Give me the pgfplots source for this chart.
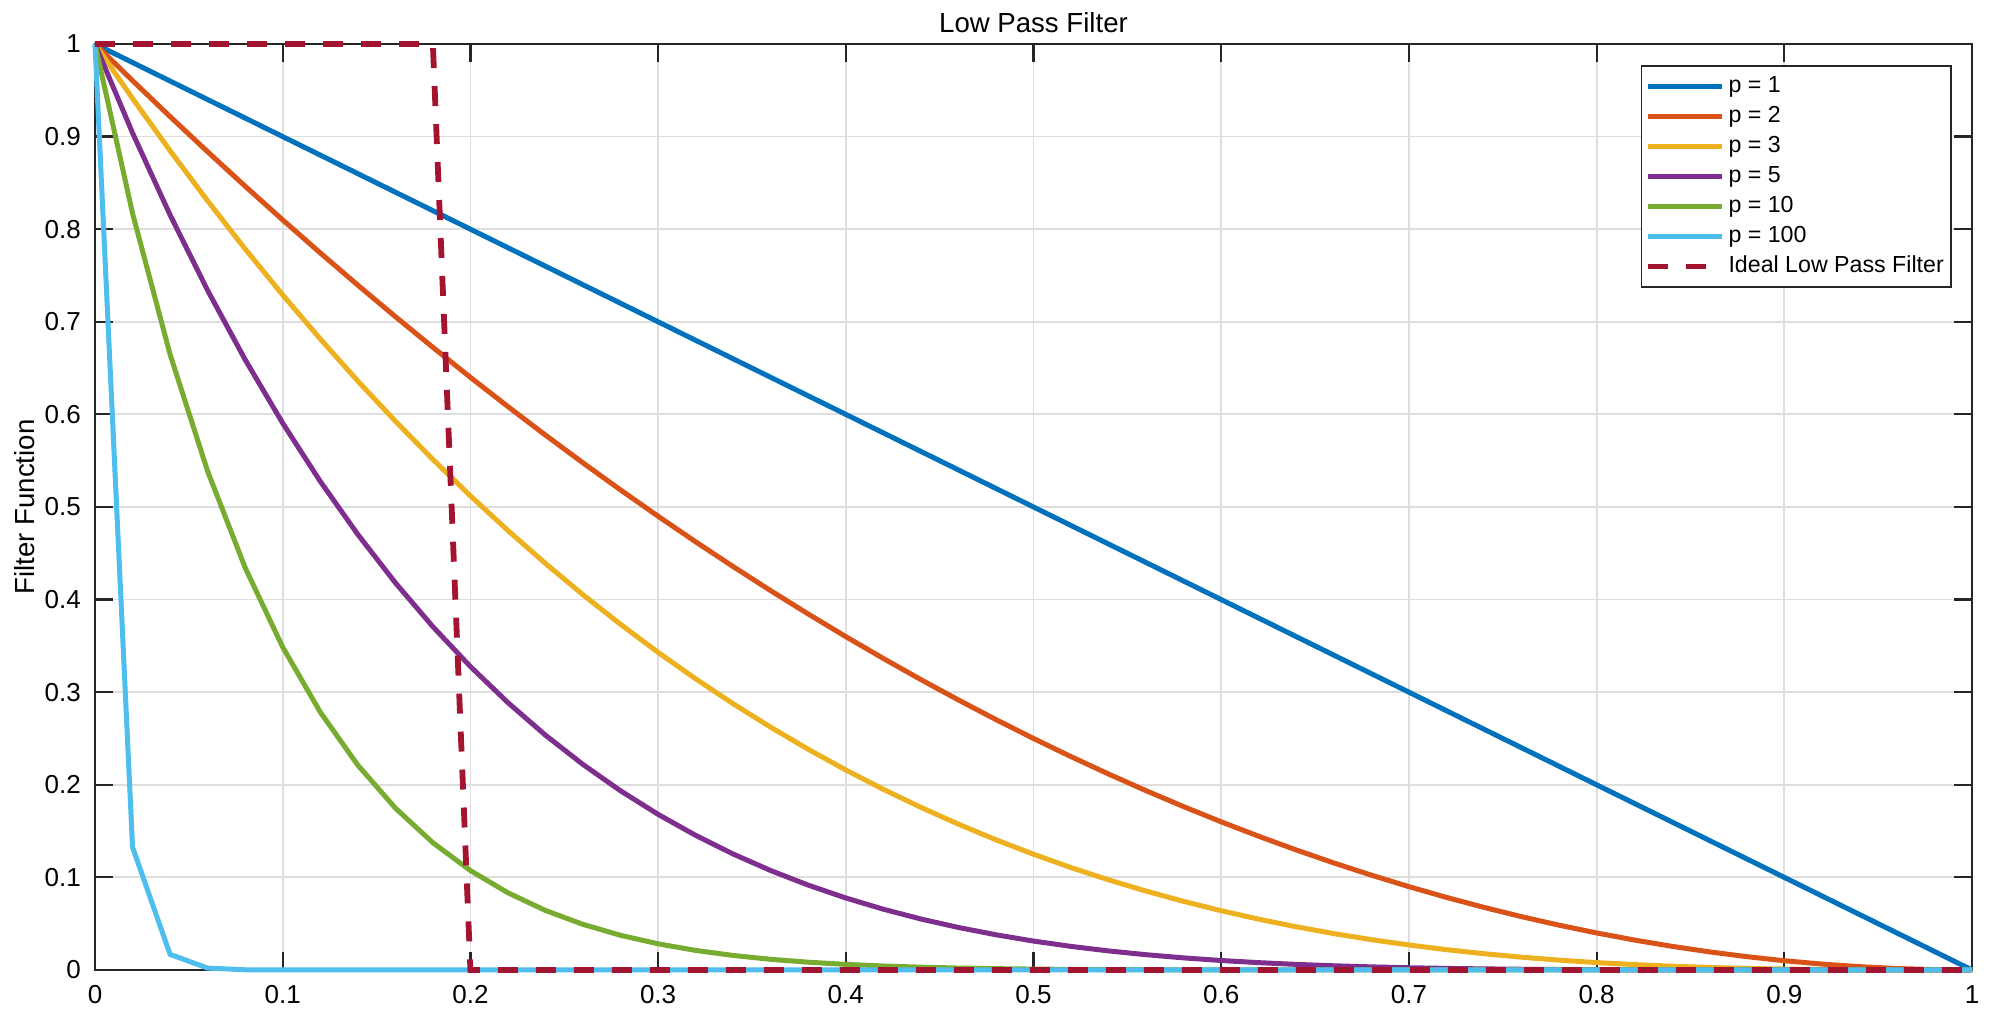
\documentclass[border=0pt]{standalone}
\usepackage{fontspec}
\setmainfont{Liberation Sans}
\usepackage{pgfplots}
\pgfplotsset{compat=1.18}
\definecolor{mblue}{HTML}{0072BD}
\definecolor{morange}{HTML}{D95319}
\definecolor{myellow}{HTML}{EDB120}
\definecolor{mpurple}{HTML}{7E2F8E}
\definecolor{mgreen}{HTML}{77AC30}
\definecolor{mcyan}{HTML}{4DBEEE}
\definecolor{mred}{HTML}{A2142F}
\definecolor{axgray}{HTML}{262626}
\definecolor{gridgray}{HTML}{DEDEDE}

\begin{document}
\begin{tikzpicture}
\begin{axis}[
    scale only axis,
    width=469.25pt, height=231.5pt,
    xmin=0, xmax=1, ymin=0, ymax=1,
    xtick={0,0.1,0.2,0.3,0.4,0.5,0.6,0.7,0.8,0.9,1},
    ytick={0,0.1,0.2,0.3,0.4,0.5,0.6,0.7,0.8,0.9,1},
    grid=major,
    major grid style={gridgray, line width=0.45pt},
    axis line style={axgray, line width=0.55pt},
    major tick style={axgray, line width=0.55pt},
    major tick length=4.5pt,
    tick align=inside,
    clip=false,
    /pgf/number format/assume math mode=true,
    tick label style={font=\fontsize{6.5}{7}\selectfont, text=black},
    xticklabel style={yshift=-0.3pt},
    title={Low Pass Filter},
    every axis title shift=0pt,
    every axis title/.style={at={([yshift=2.75pt]axis description cs:0.5,1)}, anchor=base, font=\fontsize{6.9}{8}\selectfont},
    ylabel={Filter Function},
    every axis y label/.style={at={([xshift=-17.5pt]axis description cs:0,0.5)}, rotate=90, anchor=center, font=\fontsize{6.9}{8}\selectfont},
    legend cell align=left,
    legend style={at={(0.9893,0.977)}, anchor=north east, draw=axgray, line width=0.45pt,
        font=\fontsize{5.8}{6.5}\selectfont, inner xsep=1pt, inner ysep=1.5pt,
        row sep=0.3pt,
        nodes={inner sep=0.8pt, text height=4.3pt, text depth=1.3pt}},
    legend image code/.code={\draw[#1] (0pt,0pt) -- (18.5pt,0pt);},
    every axis plot/.append style={line width=1.25pt},
]
% p = 1
\addplot[mblue] coordinates {(0,1) (1,0)};
% p = 2
\addplot[morange] coordinates {
(0,1) (0.02,0.9604) (0.04,0.9216) (0.06,0.8836) (0.08,0.8464) (0.10,0.81)
(0.12,0.7744) (0.14,0.7396) (0.16,0.7056) (0.18,0.6724) (0.20,0.64)
(0.22,0.6084) (0.24,0.5776) (0.26,0.5476) (0.28,0.5184) (0.30,0.49)
(0.32,0.4624) (0.34,0.4356) (0.36,0.4096) (0.38,0.3844) (0.40,0.36)
(0.42,0.3364) (0.44,0.3136) (0.46,0.2916) (0.48,0.2704) (0.50,0.25)
(0.52,0.2304) (0.54,0.2116) (0.56,0.1936) (0.58,0.1764) (0.60,0.16)
(0.62,0.1444) (0.64,0.1296) (0.66,0.1156) (0.68,0.1024) (0.70,0.09)
(0.72,0.0784) (0.74,0.0676) (0.76,0.0576) (0.78,0.0484) (0.80,0.04)
(0.82,0.0324) (0.84,0.0256) (0.86,0.0196) (0.88,0.0144) (0.90,0.01)
(0.92,0.0064) (0.94,0.0036) (0.96,0.0016) (0.98,0.0004) (1,0)
};
% p = 3
\addplot[myellow] coordinates {
(0,1) (0.02,0.941192) (0.04,0.884736) (0.06,0.830584) (0.08,0.778688) (0.10,0.729)
(0.12,0.681472) (0.14,0.636056) (0.16,0.592704) (0.18,0.551368) (0.20,0.512)
(0.22,0.474552) (0.24,0.438976) (0.26,0.405224) (0.28,0.373248) (0.30,0.343)
(0.32,0.314432) (0.34,0.287496) (0.36,0.262144) (0.38,0.238328) (0.40,0.216)
(0.42,0.195112) (0.44,0.175616) (0.46,0.157464) (0.48,0.140608) (0.50,0.125)
(0.52,0.110592) (0.54,0.097336) (0.56,0.085184) (0.58,0.074088) (0.60,0.064)
(0.62,0.054872) (0.64,0.046656) (0.66,0.039304) (0.68,0.032768) (0.70,0.027)
(0.72,0.021952) (0.74,0.017576) (0.76,0.013824) (0.78,0.010648) (0.80,0.008)
(0.82,0.005832) (0.84,0.004096) (0.86,0.002744) (0.88,0.001728) (0.90,0.001)
(0.92,0.000512) (0.94,0.000216) (0.96,0.000064) (0.98,0.000008) (1,0)
};
% p = 5
\addplot[mpurple] coordinates {
(0,1) (0.02,0.903921) (0.04,0.815373) (0.06,0.733904) (0.08,0.659082) (0.10,0.59049)
(0.12,0.527732) (0.14,0.470427) (0.16,0.418212) (0.18,0.370740) (0.20,0.32768)
(0.22,0.288717) (0.24,0.253553) (0.26,0.221901) (0.28,0.193492) (0.30,0.16807)
(0.32,0.145393) (0.34,0.125233) (0.36,0.107374) (0.38,0.091613) (0.40,0.07776)
(0.42,0.065636) (0.44,0.055073) (0.46,0.045917) (0.48,0.038020) (0.50,0.03125)
(0.52,0.025480) (0.54,0.020596) (0.56,0.016492) (0.58,0.013069) (0.60,0.01024)
(0.62,0.007924) (0.64,0.006047) (0.66,0.004544) (0.68,0.003355) (0.70,0.00243)
(0.72,0.001721) (0.74,0.001188) (0.76,0.000796) (0.78,0.000515) (0.80,0.00032)
(0.82,0.000189) (0.84,0.000105) (0.86,0.000054) (0.88,0.000025) (0.90,0.00001)
(1,0)
};
% p = 10
\addplot[mgreen] coordinates {
(0,1) (0.02,0.817073) (0.04,0.664833) (0.06,0.538615) (0.08,0.434389) (0.10,0.348678)
(0.12,0.278501) (0.14,0.221302) (0.16,0.174901) (0.18,0.137448) (0.20,0.107374)
(0.22,0.083357) (0.24,0.064289) (0.26,0.049240) (0.28,0.037439) (0.30,0.028248)
(0.32,0.021139) (0.34,0.015683) (0.36,0.011529) (0.38,0.008393) (0.40,0.006047)
(0.42,0.004308) (0.44,0.003033) (0.46,0.002108) (0.48,0.001446) (0.50,0.000977)
(0.52,0.000649) (0.54,0.000424) (0.56,0.000272) (0.58,0.000171) (0.60,0.000105)
(0.62,0.000063) (0.64,0.000037) (0.66,0.000021) (0.68,0.000011) (0.70,0.000006)
(1,0)
};
% p = 100
\addplot[mcyan] coordinates {
(0,1) (0.02,0.132620) (0.04,0.016870) (0.06,0.002053) (0.08,0.000239) (0.10,0.000027)
(1,0)
};
% ideal
\addplot[mred, line width=1.45pt, dash pattern=on 5pt off 4.5pt] coordinates {
(0,1) (0.18,1) (0.20,0) (1,0)
};
\legend{p = 1, p = 2, p = 3, p = 5, p = 10, p = 100, Ideal Low Pass Filter}
\end{axis}
\pgfresetboundingbox
\path[use as bounding box] ([shift={(-23.75pt,-13.5pt)}]current axis.south west) rectangle ([shift={(7pt,11pt)}]current axis.north east);
\end{tikzpicture}
\end{document}
